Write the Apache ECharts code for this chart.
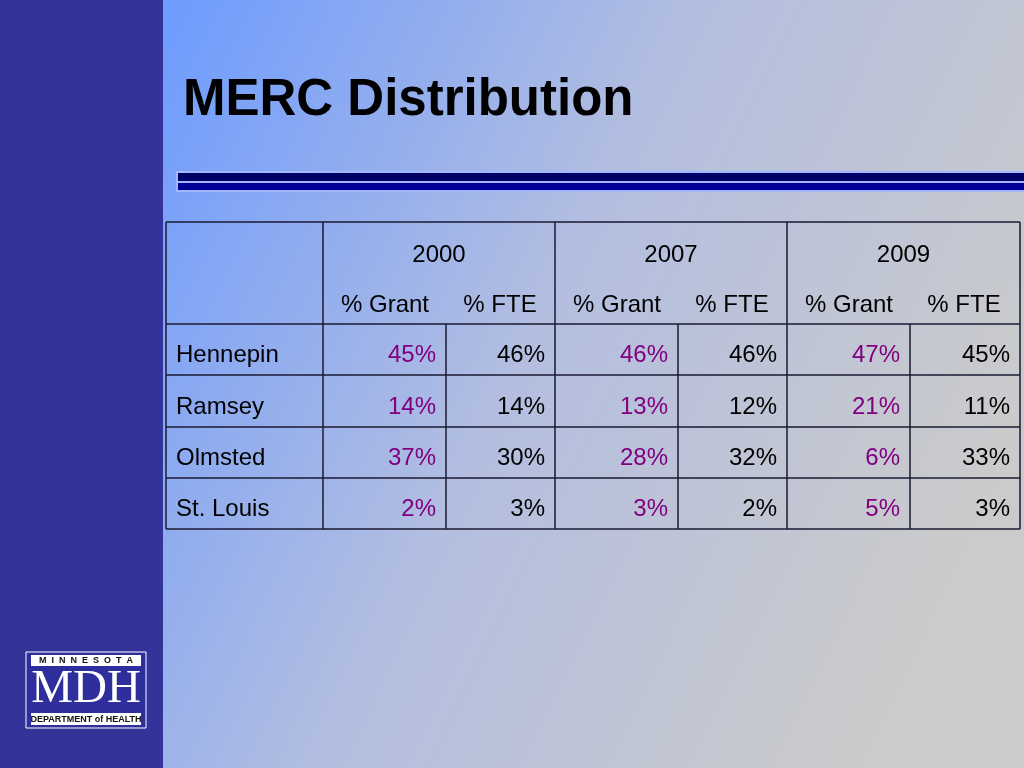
<!DOCTYPE html>
<html>
<head>
<meta charset="utf-8">
<script src="https://cdn.jsdelivr.net/npm/echarts@6/dist/echarts.min.js"></script>
<style>html,body{margin:0;padding:0;}#main{width:1024px;height:768px;}</style>
</head>
<body>
<div id="main"></div>
<script>
// table data
var title = 'MERC Distribution';
var years = ['2000', '2007', '2009'];
var subHeads = ['% Grant', '% FTE'];
var counties = ['Hennepin', 'Ramsey', 'Olmsted', 'St. Louis'];
var grant2000 = ['45%', '14%', '37%', '2%'];
var fte2000 = ['46%', '14%', '30%', '3%'];
var grant2007 = ['46%', '13%', '28%', '3%'];
var fte2007 = ['46%', '12%', '32%', '2%'];
var grant2009 = ['47%', '21%', '6%', '5%'];
var fte2009 = ['45%', '11%', '33%', '3%'];

var myChart = echarts.init(document.getElementById('main'));

var colX = [166, 323, 446, 555, 678, 787, 910, 1020];
var rowY = [222, 324, 375, 427, 478, 529];
var fam = 'Liberation Sans';
var lineCol = '#1a1a33';
var els = [];

function line(x1, y1, x2, y2) {
  els.push({type: 'line', shape: {x1: x1, y1: y1, x2: x2, y2: y2}, style: {stroke: lineCol, lineWidth: 1.5}});
}
function txt(s, x, y, align, color) {
  els.push({type: 'text', x: x, y: y, style: {text: s, fontFamily: fam, fontSize: 24, fill: color || '#000',
    textAlign: align, textVerticalAlign: 'middle'}});
}

// backgrounds
els.push({type: 'rect', shape: {x: 163, y: 0, width: 861, height: 768}, style: {
  fill: new echarts.graphic.LinearGradient(0, 0, 1, 0.55, [
    {offset: 0, color: '#6d9bff'}, {offset: 0.5, color: '#b3bee0'}, {offset: 1, color: '#cbcbcb'}])}});
els.push({type: 'rect', shape: {x: 0, y: 0, width: 163, height: 768}, style: {fill: '#333399'}});

// title + rule
els.push({type: 'text', x: 183, y: 101, style: {text: title, fontFamily: fam, fontWeight: 'bold', fontSize: 51, fill: '#000', textVerticalAlign: 'middle'}});
els.push({type: 'rect', shape: {x: 176, y: 171, width: 848, height: 21}, style: {fill: '#9fb8ff'}});
els.push({type: 'rect', shape: {x: 178, y: 173, width: 846, height: 8}, style: {fill: '#000066'}});
els.push({type: 'rect', shape: {x: 178, y: 183, width: 846, height: 7}, style: {fill: '#000099'}});

// table lines
line(colX[0], rowY[0], colX[7], rowY[0]);
for (var r = 1; r < rowY.length; r++) line(colX[0], rowY[r], colX[7], rowY[r]);
[0, 1, 3, 5, 7].forEach(function (c) { line(colX[c], rowY[0], colX[c], rowY[5]); });
[2, 4, 6].forEach(function (c) { line(colX[c], rowY[1], colX[c], rowY[5]); });

// header
years.forEach(function (y, i) {
  var a = colX[1 + i * 2], b = colX[3 + i * 2];
  txt(y, (a + b) / 2, 255, 'center');
  txt(subHeads[0], a + 62, 305, 'center');
  txt(subHeads[1], colX[2 + i * 2] + 54, 305, 'center');
});

// body
var grants = [grant2000, grant2007, grant2009];
var ftes = [fte2000, fte2007, fte2009];
counties.forEach(function (name, r) {
  var yc = (rowY[r + 1] + rowY[r + 2]) / 2 + 6;
  txt(name, 176, yc, 'left');
  for (var i = 0; i < 3; i++) {
    txt(grants[i][r], colX[2 + i * 2] - 10, yc, 'right', '#800080');
    txt(ftes[i][r], colX[3 + i * 2] - 10, yc, 'right');
  }
});

// logo
els.push({type: 'rect', shape: {x: 26, y: 652, width: 120, height: 76}, style: {fill: '#2e2e9c', stroke: '#fff', lineWidth: 1}});
els.push({type: 'rect', shape: {x: 31, y: 655, width: 110, height: 11}, style: {fill: '#fff'}});
els.push({type: 'rect', shape: {x: 31, y: 713, width: 110, height: 12}, style: {fill: '#fff'}});
els.push({type: 'text', x: 86, y: 661, style: {text: 'M  I  N  N  E  S  O  T  A', fontFamily: fam, fontWeight: 'bold', fontSize: 9, fill: '#111', textAlign: 'center', textVerticalAlign: 'middle'}});
els.push({type: 'text', x: 86, y: 690, style: {text: 'MDH', fontFamily: 'Liberation Serif', fontSize: 47, fill: '#fff', textAlign: 'center', textVerticalAlign: 'middle'}});
els.push({type: 'text', x: 86, y: 719.5, style: {text: 'DEPARTMENT of HEALTH', fontFamily: fam, fontWeight: 'bold', fontSize: 9, fill: '#111', textAlign: 'center', textVerticalAlign: 'middle'}});

myChart.setOption({animation: false, graphic: {elements: els}});
</script>
</body>
</html>
